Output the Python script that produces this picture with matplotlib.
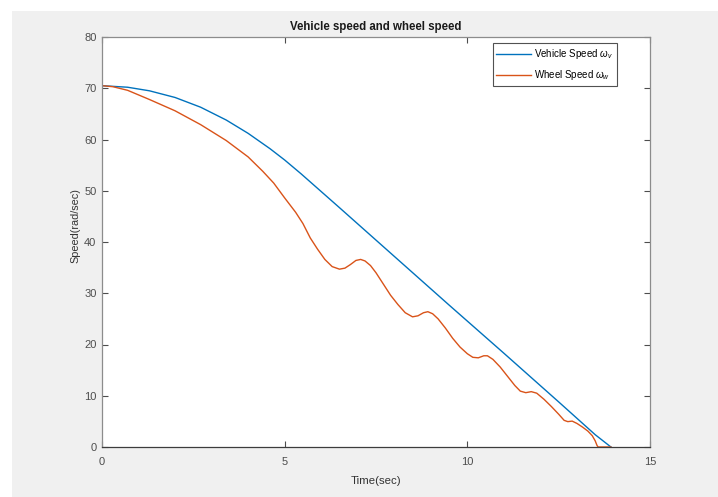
import matplotlib
matplotlib.use("Agg")
import matplotlib.pyplot as plt
from matplotlib.patches import Rectangle

# vehicle speed (rad/sec) sampled along the braking run
t_vehicle = [0.0, 0.7, 1.3, 2.0, 2.7, 3.4, 4.0, 4.6, 5.0, 5.45, 6.5, 8.0,
             9.5, 11.0, 12.5, 13.5, 13.93]
w_vehicle = [70.5, 70.2, 69.5, 68.2, 66.3, 63.8, 61.2, 58.2, 56.0, 53.3, 46.7,
             37.2, 27.7, 18.3, 8.8, 2.4, 0.0]

# wheel speed (rad/sec), with the ABS-style oscillations
t_wheel = [0.0, 0.3, 0.7, 1.3, 2.0, 2.7, 3.4, 4.0, 4.4, 4.7, 5.0, 5.3, 5.5,
           5.7, 5.9, 6.1, 6.3, 6.5, 6.65, 6.8, 6.95, 7.08, 7.2, 7.35, 7.5, 7.7,
           7.9, 8.1, 8.3, 8.5, 8.65, 8.8, 8.92, 9.05, 9.2, 9.4, 9.6, 9.8, 10.0,
           10.15, 10.3, 10.45, 10.55, 10.7, 10.9, 11.1, 11.3, 11.45, 11.6,
           11.75, 11.9, 12.1, 12.3, 12.5, 12.65, 12.75, 12.87, 13.0, 13.15,
           13.3, 13.42, 13.5, 13.55, 13.58, 13.93]
w_wheel = [70.5, 70.3, 69.6, 67.8, 65.6, 62.9, 59.8, 56.6, 53.8, 51.5, 48.6,
           45.8, 43.6, 40.8, 38.6, 36.6, 35.2, 34.7, 34.9, 35.6, 36.4, 36.6,
           36.3, 35.4, 34.0, 31.8, 29.6, 27.8, 26.2, 25.4, 25.6, 26.2, 26.4,
           26.0, 25.0, 23.2, 21.2, 19.5, 18.2, 17.5, 17.4, 17.8, 17.8, 17.1,
           15.6, 13.8, 12.0, 10.9, 10.6, 10.8, 10.5, 9.3, 7.9, 6.4, 5.2, 4.95,
           5.05, 4.6, 3.9, 3.1, 2.2, 1.2, 0.3, 0.0, 0.0]

x_ticks = [0, 5, 10, 15]
y_ticks = [0, 10, 20, 30, 40, 50, 60, 70, 80]

plt.rcParams["font.family"] = ["Liberation Sans", "DejaVu Sans"]
plt.rcParams["mathtext.fontset"] = "custom"
plt.rcParams["mathtext.it"] = "Liberation Sans:italic"
plt.rcParams["mathtext.rm"] = "Liberation Sans"

fig = plt.figure(figsize=(7.18, 4.97), dpi=100, facecolor="white")
fig.patches.append(Rectangle((12 / 718, 0), 1, 1 - 11 / 497,
                             transform=fig.transFigure, facecolor="#f0f0f0",
                             edgecolor="none", zorder=-10))

ax = fig.add_axes([102 / 718, 1 - 447 / 497, 548 / 718, 410 / 497])
ax.set_facecolor("white")

ax.plot(t_vehicle, w_vehicle, color="#0072BD", lw=1.0,
        label="Vehicle Speed $\\omega_v$")
ax.plot(t_wheel, w_wheel, color="#D95319", lw=1.0,
        label="Wheel Speed $\\omega_w$")

ax.set_xlim(0, 15)
ax.set_ylim(0, 80)
ax.set_xticks(x_ticks)
ax.set_yticks(y_ticks)
ax.tick_params(direction="in", length=4, width=0.8, top=True, right=True,
               labelsize=8, colors="#4d4d4d", pad=4)
ax.tick_params(axis="x", pad=7)
for side in ["left", "top", "right"]:
    ax.spines[side].set_color("#8c8c8c")
    ax.spines[side].set_linewidth(0.9)
ax.spines["bottom"].set_color("#3c3c3c")
ax.spines["bottom"].set_linewidth(0.9)

ax.set_xlabel("Time(sec)", fontsize=8.2, color="#333333", labelpad=7)
ax.set_ylabel("Speed(rad/sec)", fontsize=7.8, color="#333333")
ax.yaxis.set_label_coords(-0.039, 0.54)
ax.set_title("Vehicle speed and wheel speed", fontsize=8.3, fontweight="bold",
             color="#1a1a1a", pad=5)

leg = ax.legend(loc="upper right", bbox_to_anchor=(0.940, 0.985), fontsize=7,
                frameon=True, fancybox=False, handlelength=3.6,
                borderpad=0.4, labelspacing=0.75, handletextpad=0.3,
                borderaxespad=0)
leg.get_frame().set_edgecolor("#262626")
leg.get_frame().set_linewidth(0.8)

fig.savefig("out.png", dpi=100, facecolor=fig.get_facecolor())
